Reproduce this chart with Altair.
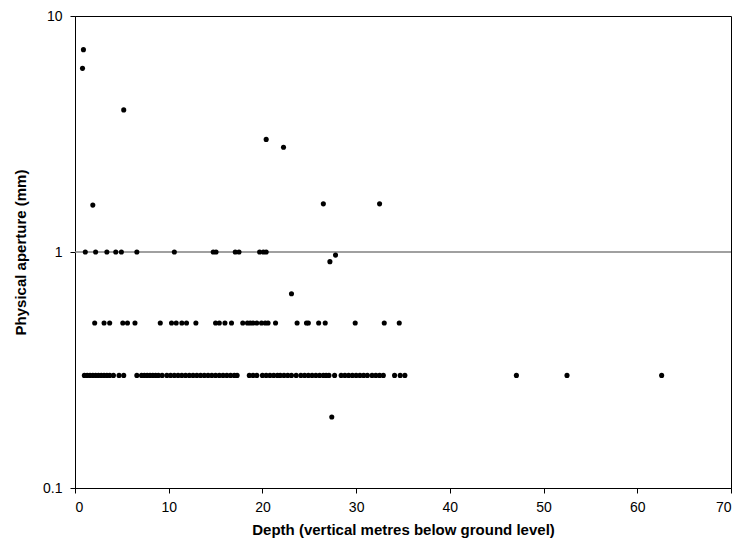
import altair as alt
import pandas as pd

# Depth values (m) for each aperture class
depth_high = [0.9, 0.8, 5.2, 20.4, 22.25, 1.9, 26.5, 32.5, 27.2, 27.8, 23.1, 27.4]
aperture_high = [7.2, 6.0, 4.0, 3.0, 2.78, 1.58, 1.6, 1.6, 0.91, 0.97, 0.665, 0.2]

depth_1 = [1.1, 2.2, 3.4, 4.35, 4.95, 6.6, 10.6, 14.75, 15.05, 17.1, 17.5, 19.7, 20.1, 20.4]

depth_05 = [2.1, 3.1, 3.7, 5.1, 5.6, 6.4, 9.1, 10.3, 10.8, 11.4, 11.9, 12.9,
            15.0, 15.4, 16.0, 16.7, 17.9, 18.4, 18.7, 19.0, 19.4, 19.9, 20.3, 20.6,
            21.4, 23.7, 24.7, 24.9, 26.0, 26.7, 29.9, 33.0, 34.6]

depth_03 = [1.0, 1.3, 1.6, 1.9, 2.2, 2.5, 2.8, 3.1, 3.4, 3.7, 4.1, 4.7, 5.2, 6.6,
            7.1, 7.4, 7.7, 8.0, 8.3, 8.6, 8.9, 9.3,
            9.8, 10.2, 10.6, 11.0, 11.4, 11.8, 12.2, 12.6, 13.0, 13.4, 13.8, 14.2,
            14.6, 15.0, 15.4, 15.8, 16.2, 16.6, 17.0, 17.3,
            18.6, 19.0, 19.4, 20.0, 20.4, 20.8, 21.2, 21.6,
            21.9, 22.3, 22.7, 23.1, 23.6,
            24.1, 24.5, 24.9, 25.3, 25.7, 26.1, 26.5, 26.8, 27.1, 27.7,
            28.4, 28.8, 29.2, 29.6, 30.0, 30.4, 30.8, 31.2, 31.7,
            32.1, 32.5, 32.9, 34.1, 34.7, 35.2, 47.1, 52.5, 62.6]

x_ticks = [0, 10, 20, 30, 40, 50, 60, 70]
y_ticks = [0.1, 1, 10]

depth = depth_high + depth_1 + depth_05 + depth_03
aperture = (aperture_high + [1.0] * len(depth_1) + [0.5] * len(depth_05)
            + [0.3] * len(depth_03))
df = pd.DataFrame({"depth": depth, "aperture": aperture})

FONT = "Liberation Sans"

x_enc = alt.X(
    "depth:Q",
    scale=alt.Scale(domain=[0, 70], nice=False, zero=False),
    axis=alt.Axis(
        values=x_ticks, title="Depth (vertical metres below ground level)",
        grid=False, domainColor="black", tickColor="black", tickSize=5,
        labelFont=FONT, labelFontSize=14, labelColor="black", labelPadding=7,
        titleFont=FONT, titleFontSize=15, titleFontWeight="bold",
        titleColor="black", titlePadding=8,
    ),
)
y_enc = alt.Y(
    "aperture:Q",
    scale=alt.Scale(type="log", domain=[0.1, 10], nice=False),
    axis=alt.Axis(
        values=y_ticks, title="Physical aperture (mm)", format="~g",
        grid=False, domainColor="black", tickColor="black", tickSize=5,
        labelFont=FONT, labelFontSize=14, labelColor="black", labelPadding=8,
        titleFont=FONT, titleFontSize=15, titleFontWeight="bold",
        titleColor="black", titlePadding=14,
    ),
)

grid = alt.Chart(pd.DataFrame({"y": [1.0]})).mark_rule(
    color="#808080", strokeWidth=1.5
).encode(y=alt.Y("y:Q", scale=alt.Scale(type="log", domain=[0.1, 10], nice=False)))

points = alt.Chart(df).mark_circle(size=26, color="black", opacity=1).encode(
    x=x_enc, y=y_enc
)

chart = alt.layer(grid, points).properties(
    width=656, height=472,
    autosize=alt.AutoSizeParams(type="none"),
    padding={"left": 75, "top": 16, "right": 11, "bottom": 63},
    background="white",
).configure_view(stroke="black", strokeWidth=1)

chart.save("out.html", embed_options={"renderer": "svg", "actions": False})
